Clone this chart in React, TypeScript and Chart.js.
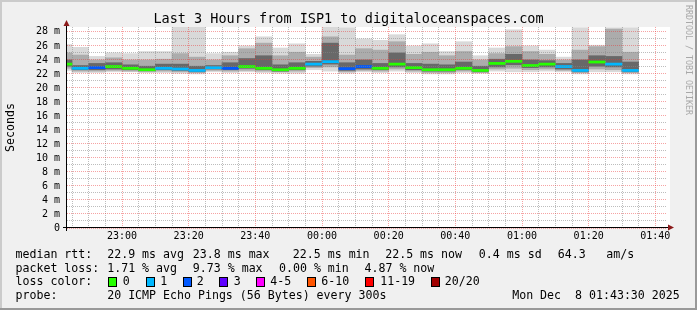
import React, { useEffect, useRef } from "react";
import { Chart, registerables } from "chart.js";

Chart.register(...registerables);

const MONO = "'DejaVu Sans Mono', 'Liberation Mono', monospace";

const title = "Last 3 Hours from ISP1 to digitaloceanspaces.com";
const windowStart = "22:43:30";
const windowEnd = "01:43:30";

// 5-minute slots (start times)
const slotStart = [
  "22:40", "22:45", "22:50", "22:55", "23:00", "23:05", "23:10", "23:15", "23:20", "23:25",
  "23:30", "23:35", "23:40", "23:45", "23:50", "23:55", "00:00", "00:05", "00:10", "00:15",
  "00:20", "00:25", "00:30", "00:35", "00:40", "00:45", "00:50", "00:55", "01:00", "01:05",
  "01:10", "01:15", "01:20", "01:25", "01:30",
];

// median rtt (ms)
const medianMs = [
  23.4, 22.8, 22.9, 23.05, 22.8, 22.6, 22.8, 22.7, 22.5, 22.9,
  22.8, 23.05, 22.8, 22.6, 22.8, 23.4, 23.75, 22.75, 23.05, 22.8,
  23.4, 22.9, 22.6, 22.6, 22.8, 22.5, 23.5, 23.8, 23.2, 23.4,
  23.05, 22.5, 23.7, 23.4, 22.5,
];

// loss colour index (number of lost pings bucket)
const lossLevel = [
  0, 1, 2, 0, 0, 0, 1, 1, 1, 1,
  2, 0, 0, 0, 0, 1, 1, 2, 2, 0,
  0, 0, 0, 0, 0, 0, 0, 0, 0, 0,
  1, 1, 0, 1, 1,
];

// smoke: outer (min..max), middle (low..high), core (coreLow..coreHigh)
const maxMs = [
  26.2, 25.8, 24.5, 25.0, 24.9, 25.2, 25.2, 28.9, 28.9, 24.9,
  25.1, 26.0, 27.3, 25.7, 26.3, 24.8, 28.9, 28.6, 27.0, 26.8,
  27.6, 26.0, 26.3, 25.2, 26.6, 24.6, 25.7, 28.3, 26.0, 25.4,
  24.4, 28.6, 26.1, 28.6, 28.6,
];
const highMs = [
  25.0, 24.7, 24.0, 24.3, 24.0, 24.0, 24.1, 24.9, 24.4, 24.0,
  24.6, 25.6, 26.4, 24.6, 25.1, 24.4, 27.3, 24.7, 25.6, 25.4,
  26.6, 24.8, 25.1, 24.6, 25.2, 24.0, 24.9, 25.9, 25.2, 24.8,
  24.0, 25.4, 25.9, 28.4, 25.1,
];
const coreHighMs = [
  24.0, 23.2, 23.5, 23.6, 23.3, 23.1, 23.4, 23.4, 23.1, 23.2,
  23.6, 24.2, 24.6, 23.3, 23.6, 23.8, 26.4, 23.6, 24.0, 23.5,
  25.0, 23.5, 23.4, 23.3, 23.7, 23.1, 24.1, 24.8, 24.0, 23.9,
  23.5, 24.0, 24.6, 24.5, 23.7,
];
const coreLowMs = [
  23.1, 22.6, 22.6, 22.7, 22.6, 22.5, 22.6, 22.5, 22.3, 22.7,
  22.6, 22.8, 22.6, 22.4, 22.6, 23.1, 23.4, 22.5, 22.7, 22.6,
  23.0, 22.6, 22.4, 22.4, 22.6, 22.3, 23.0, 23.3, 22.9, 23.0,
  22.7, 22.3, 23.1, 23.0, 22.3,
];
const lowMs = [
  22.8, 22.4, 22.4, 22.5, 22.4, 22.3, 22.4, 22.3, 22.2, 22.5,
  22.4, 22.5, 22.4, 22.3, 22.4, 22.9, 23.0, 22.3, 22.5, 22.4,
  22.7, 22.4, 22.2, 22.2, 22.4, 22.2, 22.7, 22.8, 22.6, 22.7,
  22.5, 22.2, 22.7, 22.6, 22.2,
];
const minMs = [
  22.5, 22.2, 22.2, 22.3, 22.3, 22.2, 22.2, 22.1, 22.0, 22.3,
  22.2, 22.3, 22.2, 22.1, 22.1, 22.6, 22.4, 22.1, 22.3, 22.2,
  22.4, 22.2, 22.0, 22.0, 22.2, 22.1, 22.4, 22.3, 22.3, 22.4,
  22.3, 22.0, 22.3, 22.3, 22.0,
];

const xTickLabels = ["23:00", "23:20", "23:40", "00:00", "00:20", "00:40", "01:00", "01:20", "01:40"];
const yMaxMs = 28.7;

const lossColors = ["#26ff00", "#00b8ff", "#0059ff", "#5e00ff", "#ff00ff", "#ff5500", "#ff0000", "#a10000"];
const lossLabels = ["0", "1", "2", "3", "4-5", "6-10", "11-19", "20/20"];

const rttLabel = "median rtt:";
const rttStats = ["22.9 ms avg", "23.8 ms max", "22.5 ms min", "22.5 ms now", "0.4 ms sd", "64.3", "am/s"];
const lossLabel = "packet loss:";
const lossStats = ["1.71 % avg", "9.73 % max", "0.00 % min", "4.87 % now"];
const lossColorLabel = "loss color:";
const probeLabel = "probe:";
const probeText = "20 ICMP Echo Pings (56 Bytes) every 300s";
const stampText = "Mon Dec  8 01:43:30 2025";
const watermark = "RRDTOOL / TOBI OETIKER";
const yAxisTitle = "Seconds";

// layout constants
const rttX = [107.2, 192.8, 292.8, 385.2, 478.8, 557.8, 606.2];
const lossX = [107.2, 192.8, 279.0, 364.5];
const boxX = [108.3, 146, 182.7, 219.3, 256, 307.3, 365.3, 430.7];
const boxTextX = [122.8, 160.2, 196.8, 233.8, 270.2, 321.2, 380.2, 444.8];

function toMinutes(s: string): number {
  const p = s.split(":").map(Number);
  const h = p[0];
  let t = h * 60 + p[1] + (p[2] || 0) / 60;
  if (h < 12) t += 1440;
  return t - 1320;
}

function fmtMinutes(v: number): string {
  const total = Math.round(v) + 1320;
  const h = Math.floor(total / 60) % 24;
  const m = total % 60;
  return String(h).padStart(2, "0") + ":" + String(m).padStart(2, "0");
}

const GRID = "rgba(135,135,135,0.55)";
const MGRID = "rgba(235,50,50,0.45)";

const decor = {
  id: "decor",
  beforeDraw(chart: any) {
    const { ctx, width, height, chartArea: a } = chart;
    ctx.save();
    ctx.fillStyle = "#f0f0f0";
    ctx.fillRect(0, 0, width, height);
    ctx.fillStyle = "#cbcbcb";
    ctx.fillRect(0, 0, width, 2);
    ctx.fillRect(0, 0, 2, height);
    ctx.fillStyle = "#999999";
    ctx.fillRect(0, height - 2, width, 2);
    ctx.fillRect(width - 2, 0, 2, height);
    ctx.fillStyle = "#ffffff";
    ctx.fillRect(a.left, a.top, a.right - a.left + 3, a.bottom - a.top);
    ctx.restore();
  },
  afterDraw(chart: any) {
    const { ctx, chartArea: a } = chart;
    ctx.save();
    // axes
    ctx.strokeStyle = "#000";
    ctx.lineWidth = 1;
    ctx.setLineDash([]);
    ctx.beginPath();
    ctx.moveTo(63, a.bottom - 0.5);
    ctx.lineTo(a.right + 2, a.bottom - 0.5);
    ctx.moveTo(a.left - 0.5, a.bottom + 3);
    ctx.lineTo(a.left - 0.5, a.top - 3);
    ctx.stroke();
    ctx.fillStyle = "#8b1a1a";
    ctx.beginPath();
    ctx.moveTo(a.right + 1, a.bottom - 3.5);
    ctx.lineTo(a.right + 7, a.bottom - 0.5);
    ctx.lineTo(a.right + 1, a.bottom + 2.5);
    ctx.closePath();
    ctx.fill();
    ctx.beginPath();
    ctx.moveTo(a.left - 3.5, a.top - 1);
    ctx.lineTo(a.left - 0.5, a.top - 7);
    ctx.lineTo(a.left + 2.5, a.top - 1);
    ctx.closePath();
    ctx.fill();

    // title
    ctx.fillStyle = "#000";
    ctx.textBaseline = "middle";
    ctx.textAlign = "center";
    ctx.font = `13.5px ${MONO}`;
    ctx.fillText(title, 348.5, 19.5);

    // y axis title
    ctx.save();
    ctx.font = `11.6px ${MONO}`;
    ctx.translate(10.5, (a.top + a.bottom) / 2);
    ctx.rotate(-Math.PI / 2);
    ctx.fillText(yAxisTitle, 0, 0);
    ctx.restore();

    // watermark
    ctx.save();
    ctx.font = `8.3px ${MONO}`;
    ctx.fillStyle = "#a8a8a8";
    ctx.textAlign = "left";
    ctx.translate(688, 5);
    ctx.rotate(Math.PI / 2);
    ctx.fillText(watermark, 0, 0);
    ctx.restore();

    // legend
    ctx.font = `11.6px ${MONO}`;
    ctx.textAlign = "left";
    ctx.fillStyle = "#000";
    const r1 = 254.5, r2 = 268.5, r3 = 282, r4 = 296;
    ctx.fillText(rttLabel, 15.5, r1);
    rttStats.forEach((s, i) => ctx.fillText(s, rttX[i], r1));
    ctx.fillText(lossLabel, 15.5, r2);
    lossStats.forEach((s, i) => ctx.fillText(s, lossX[i], r2));
    ctx.fillText(lossColorLabel, 15.5, r3);
    lossLabels.forEach((s, i) => {
      ctx.fillStyle = lossColors[i];
      ctx.fillRect(Math.round(boxX[i]), 277, 9, 10);
      ctx.strokeStyle = "#000";
      ctx.lineWidth = 1;
      ctx.strokeRect(Math.round(boxX[i]) + 0.5, 277.5, 8, 9);
      ctx.fillStyle = "#000";
      ctx.fillText(s, boxTextX[i], r3);
    });
    ctx.fillText(probeLabel, 15.5, r4);
    ctx.fillText(probeText, 107.2, r4);
    ctx.fillText(stampText, 512.2, r4);
    ctx.restore();
  },
};

export default function App() {
  const ref = useRef<HTMLCanvasElement>(null);

  useEffect(() => {
    const canvas = ref.current;
    if (!canvas) return;
    const slotX = slotStart.map((s) => toMinutes(s) + 2.5);
    const mk = (lo: number[], hi: number[]) => slotX.map((x, i) => ({ x, y: [lo[i], hi[i]] }));
    const medLo = medianMs.map((m) => m - 0.15);
    const medHi = medianMs.map((m) => m + 0.15);
    const common = {
      grouped: false,
      barPercentage: 1,
      categoryPercentage: 1,
      borderWidth: 0,
    };
    const xMin = toMinutes(windowStart);
    const xMax = toMinutes(windowEnd);
    const majorX = xTickLabels.map(toMinutes);

    const chart = new Chart(canvas, {
      type: "bar",
      data: {
        datasets: [
          { ...common, label: "median", data: mk(medLo, medHi), backgroundColor: lossLevel.map((l) => lossColors[l]), order: 0 },
          { ...common, label: "core", data: mk(coreLowMs, coreHighMs), backgroundColor: "#686868", order: 1 },
          { ...common, label: "mid", data: mk(lowMs, highMs), backgroundColor: "#acacac", order: 2 },
          { ...common, label: "outer", data: mk(minMs, maxMs), backgroundColor: "#d9d9d9", order: 3 },
        ] as any,
      },
      options: {
        responsive: false,
        animation: false,
        devicePixelRatio: 1,
        layout: { padding: { top: 27, right: 30, bottom: 0, left: 0 } },
        plugins: { legend: { display: false }, tooltip: { enabled: false }, title: { display: false } },
        scales: {
          x: {
            type: "linear",
            min: xMin,
            max: xMax,
            offset: false,
            grid: {
              offset: false,
              drawTicks: false,
              lineWidth: 1,
              z: 1,
              color: (c: any) => (majorX.includes(c.tick?.value) ? MGRID : GRID),
            },
            border: { display: false, dash: [1, 1] },
            ticks: {
              autoSkip: false,
              maxRotation: 0,
              minRotation: 0,
              padding: 2,
              color: "#000",
              font: { family: MONO, size: 10 },
              callback: (v: any) => (majorX.includes(Number(v)) ? fmtMinutes(Number(v)) : ""),
            },
            afterBuildTicks: (s: any) => {
              const t = [];
              for (let v = Math.ceil(xMin / 5) * 5; v <= xMax; v += 5) t.push({ value: v });
              s.ticks = t;
            },
            afterFit: (s: any) => {
              s.height = 82;
            },
          } as any,
          y: {
            type: "linear",
            min: 0,
            max: yMaxMs,
            grid: {
              drawTicks: false,
              lineWidth: 1,
              z: 1,
              color: (c: any) => (c.tick && c.tick.value % 2 === 0 ? MGRID : GRID),
            },
            border: { display: false, dash: [1, 1] },
            ticks: {
              autoSkip: false,
              padding: 7,
              color: "#000",
              font: { family: MONO, size: 10 },
              callback: (v: any) => {
                const n = Number(v);
                if (n % 2 !== 0) return "";
                return n === 0 ? "0" : `${n} m`;
              },
            },
            afterBuildTicks: (s: any) => {
              const t = [];
              for (let v = 0; v <= Math.floor(yMaxMs); v++) t.push({ value: v });
              s.ticks = t;
            },
            afterFit: (s: any) => {
              s.width = 67;
            },
          } as any,
        },
      },
      plugins: [decor],
    });
    return () => chart.destroy();
  }, []);

  return (
    <canvas
      ref={ref}
      width={697}
      height={310}
      style={{ position: "absolute", left: 0, top: 0, width: 697, height: 310 }}
    />
  );
}
